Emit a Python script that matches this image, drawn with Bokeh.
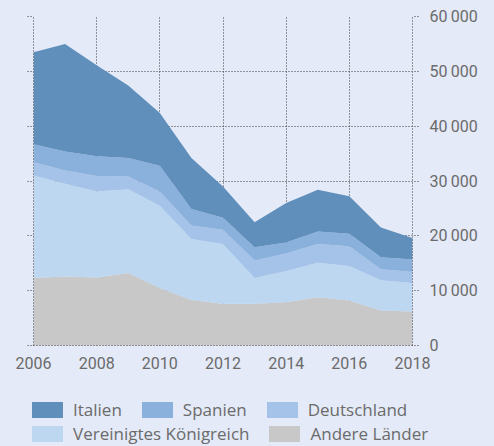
from bokeh.plotting import figure
from bokeh.layouts import column
from bokeh.models import (ColumnDataSource, Range1d, LinearAxis, FixedTicker, Div,
                          GlobalInlineStyleSheet)
from bokeh.embed import file_html
from bokeh.resources import INLINE

# ---- data ----
years = list(range(2006, 2019))
andere = [12300, 12600, 12400, 13200, 10500, 8300, 7600, 7600, 7900, 8800, 8200, 6400, 6200]
uk = [18700, 16900, 15700, 15300, 15000, 11100, 10900, 4700, 5700, 6300, 6300, 5500, 5200]
deutschland = [2400, 2400, 2800, 2300, 2600, 2500, 2600, 3200, 3200, 3400, 3600, 2000, 2000]
spanien = [3300, 3500, 3600, 3400, 4700, 3000, 2200, 2400, 2000, 2300, 2300, 2200, 2300]
italien = [16800, 19600, 16600, 13200, 9600, 9300, 5700, 4600, 7200, 7600, 6800, 5400, 3900]

series_keys = ["andere", "uk", "de", "es", "it"]
series_names = ["Andere Länder", "Vereinigtes Königreich", "Deutschland", "Spanien", "Italien"]
colors = ["#C8C8C8", "#BDD7F1", "#A5C2E8", "#8AB0DC", "#608FBC"]
legend_row1 = ["Italien", "Spanien", "Deutschland"]
legend_row2 = ["Vereinigtes Königreich", "Andere Länder"]

x_ticks = [2006, 2008, 2010, 2012, 2014, 2016, 2018]
y_ticks = [0, 10000, 20000, 30000, 40000, 50000, 60000]
y_tick_labels = ["0", "10\u2009000", "20\u2009000", "30\u2009000", "40\u2009000", "50\u2009000", "60\u2009000"]

BG = "#E4EAF7"
TXT = "#6B6B6B"
FONT = "Roboto"
LEGEND_FONT = "Open Sans"
DOT = "#3A3A3A"
DASH = "1 2"

source = ColumnDataSource(dict(year=years, andere=andere, uk=uk, de=deutschland,
                               es=spanien, it=italien))

p = figure(width=494, height=380, output_backend="svg", toolbar_location=None,
           x_range=Range1d(2006, 2018), y_range=Range1d(0, 60000),
           y_axis_location="right",
           min_border_left=33, min_border_right=82, min_border_top=16, min_border_bottom=35)
p.background_fill_color = BG
p.border_fill_color = BG
p.outline_line_color = None
p.stylesheets = [GlobalInlineStyleSheet(css="html, body { background-color: #E4EAF7; }")]

renderers = p.varea_stack(stackers=series_keys, x="year", color=colors, source=source)

# grids
for g in (p.xgrid, p.ygrid):
    g.grid_line_color = DOT
    g.grid_line_dash = DASH
    g.grid_line_width = 1
p.xgrid.ticker = FixedTicker(ticks=x_ticks)
p.ygrid.ticker = FixedTicker(ticks=y_ticks)

# x axis
xa = p.xaxis[0]
xa.ticker = FixedTicker(ticks=x_ticks)
xa.major_tick_out = 0
xa.major_tick_in = 0
xa.minor_tick_out = 0
xa.minor_tick_in = 0
xa.axis_line_color = DOT
xa.axis_line_dash = DASH
xa.major_label_standoff = 11
xa.major_label_text_font = FONT
xa.major_label_text_font_size = "16px"
xa.major_label_text_color = TXT

# right y axis
ya = p.yaxis[0]
ya.ticker = FixedTicker(ticks=y_ticks)
ya.major_label_overrides = {t: l for t, l in zip(y_ticks, y_tick_labels)}
ya.major_tick_out = 6
ya.major_tick_in = 0
ya.minor_tick_out = 0
ya.minor_tick_in = 0
ya.major_tick_line_color = DOT
ya.major_tick_line_dash = DASH
ya.axis_line_color = DOT
ya.axis_line_dash = DASH
ya.major_label_standoff = 11
ya.major_label_text_font = FONT
ya.major_label_text_font_size = "16px"
ya.major_label_text_color = TXT

# left axis: ticks only (labels not drawn)
la = LinearAxis(ticker=FixedTicker(ticks=y_ticks))
la.major_label_text_font_size = "1px"
la.major_label_text_color = None
la.major_label_standoff = 0
la.major_tick_out = 6
la.major_tick_in = 0
la.minor_tick_out = 0
la.minor_tick_in = 0
la.major_tick_line_color = DOT
la.major_tick_line_dash = DASH
la.axis_line_color = DOT
la.axis_line_dash = DASH
p.add_layout(la, "left")

# ---- legend (two rows of swatches + labels) ----
color_of = dict(zip(series_names, colors))


def legend_row(names):
    parts = []
    for n in names:
        parts.append(
            '<span style="display:inline-block;width:31px;height:16px;'
            'vertical-align:middle;margin-right:10px;background:%s;"></span>'
            '<span style="display:inline-block;vertical-align:middle;margin-right:20px;">%s</span>'
            % (color_of[n], n))
    return '<div style="white-space:nowrap;height:24px;line-height:24px;">' + "".join(parts) + "</div>"


legend_html = (
    '<div style="font-family:\'%s\';font-size:17px;color:%s;padding:17px 0 0 32px;">'
    % (LEGEND_FONT, TXT)
    + legend_row(legend_row1) + legend_row(legend_row2) + "</div>"
)
legend_div = Div(text=legend_html, width=494, height=66, margin=(0, 0, 0, 0),
                 styles={"background-color": BG})

layout = column(p, legend_div, spacing=0)
open("out.html", "w").write(file_html(layout, INLINE))
